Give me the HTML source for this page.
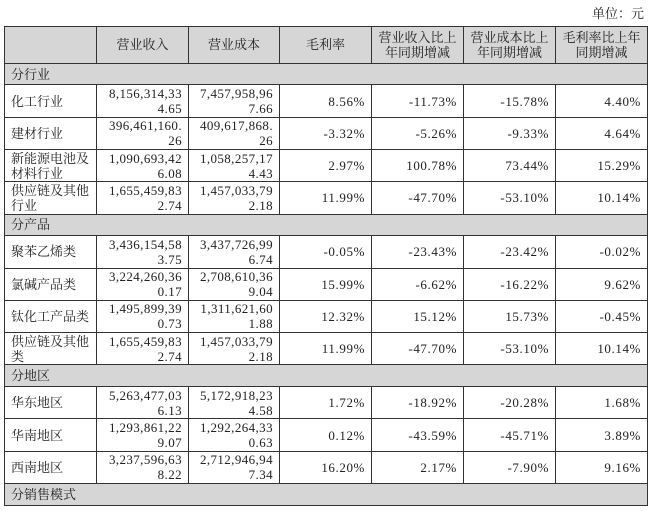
<!DOCTYPE html>
<html><head><meta charset="utf-8"><style>
body{margin:0;width:656px;height:512px;background:#fff;position:relative;overflow:hidden;font-family:"Liberation Serif","Noto Serif CJK SC",serif;font-size:13px;color:#222;}
.unit{position:absolute;right:12px;top:3px;font-size:13px;}
table{position:absolute;left:4px;top:26px;border-collapse:collapse;table-layout:fixed;width:643px;}
td{border:1.3px solid #333;padding:0 6px;line-height:15px;vertical-align:middle;overflow:hidden;}
.h td{background:#d6d6d6;text-align:center;height:35.7px;}
.s td{background:#d6d6d6;height:20.7px;}
.r td{height:31.3px;}
.n{text-align:right;letter-spacing:0.4px;}
.n2{text-align:right;letter-spacing:0.6px;}
</style></head><body>
<div class="unit">单位：元</div>
<table>
<colgroup><col style="width:92px"><col style="width:92px"><col style="width:91px"><col style="width:92px"><col style="width:92px"><col style="width:92px"><col style="width:92px"></colgroup>
<tr class="h"><td></td><td>营业收入</td><td>营业成本</td><td>毛利率</td><td>营业收入比上年同期增减</td><td>营业成本比上年同期增减</td><td>毛利率比上年同期增减</td></tr>
<tr class="s"><td colspan="7">分行业</td></tr>
<tr class="r"><td>化工行业</td><td class="n">8,156,314,33<br>4.65</td><td class="n">7,457,958,96<br>7.66</td><td class="n2">8.56%</td><td class="n2">-11.73%</td><td class="n2">-15.78%</td><td class="n2">4.40%</td></tr>
<tr class="r"><td>建材行业</td><td class="n">396,461,160.<br>26</td><td class="n">409,617,868.<br>26</td><td class="n2">-3.32%</td><td class="n2">-5.26%</td><td class="n2">-9.33%</td><td class="n2">4.64%</td></tr>
<tr class="r"><td>新能源电池及材料行业</td><td class="n">1,090,693,42<br>6.08</td><td class="n">1,058,257,17<br>4.43</td><td class="n2">2.97%</td><td class="n2">100.78%</td><td class="n2">73.44%</td><td class="n2">15.29%</td></tr>
<tr class="r"><td>供应链及其他行业</td><td class="n">1,655,459,83<br>2.74</td><td class="n">1,457,033,79<br>2.18</td><td class="n2">11.99%</td><td class="n2">-47.70%</td><td class="n2">-53.10%</td><td class="n2">10.14%</td></tr>
<tr class="s"><td colspan="7">分产品</td></tr>
<tr class="r"><td>聚苯乙烯类</td><td class="n">3,436,154,58<br>3.75</td><td class="n">3,437,726,99<br>6.74</td><td class="n2">-0.05%</td><td class="n2">-23.43%</td><td class="n2">-23.42%</td><td class="n2">-0.02%</td></tr>
<tr class="r"><td>氯碱产品类</td><td class="n">3,224,260,36<br>0.17</td><td class="n">2,708,610,36<br>9.04</td><td class="n2">15.99%</td><td class="n2">-6.62%</td><td class="n2">-16.22%</td><td class="n2">9.62%</td></tr>
<tr class="r"><td>钛化工产品类</td><td class="n">1,495,899,39<br>0.73</td><td class="n">1,311,621,60<br>1.88</td><td class="n2">12.32%</td><td class="n2">15.12%</td><td class="n2">15.73%</td><td class="n2">-0.45%</td></tr>
<tr class="r"><td>供应链及其他类</td><td class="n">1,655,459,83<br>2.74</td><td class="n">1,457,033,79<br>2.18</td><td class="n2">11.99%</td><td class="n2">-47.70%</td><td class="n2">-53.10%</td><td class="n2">10.14%</td></tr>
<tr class="s"><td colspan="7">分地区</td></tr>
<tr class="r"><td>华东地区</td><td class="n">5,263,477,03<br>6.13</td><td class="n">5,172,918,23<br>4.58</td><td class="n2">1.72%</td><td class="n2">-18.92%</td><td class="n2">-20.28%</td><td class="n2">1.68%</td></tr>
<tr class="r"><td>华南地区</td><td class="n">1,293,861,22<br>9.07</td><td class="n">1,292,264,33<br>0.63</td><td class="n2">0.12%</td><td class="n2">-43.59%</td><td class="n2">-45.71%</td><td class="n2">3.89%</td></tr>
<tr class="r"><td>西南地区</td><td class="n">3,237,596,63<br>8.22</td><td class="n">2,712,946,94<br>7.34</td><td class="n2">16.20%</td><td class="n2">2.17%</td><td class="n2">-7.90%</td><td class="n2">9.16%</td></tr>
<tr class="s"><td colspan="7">分销售模式</td></tr>
</table>
</body></html>
